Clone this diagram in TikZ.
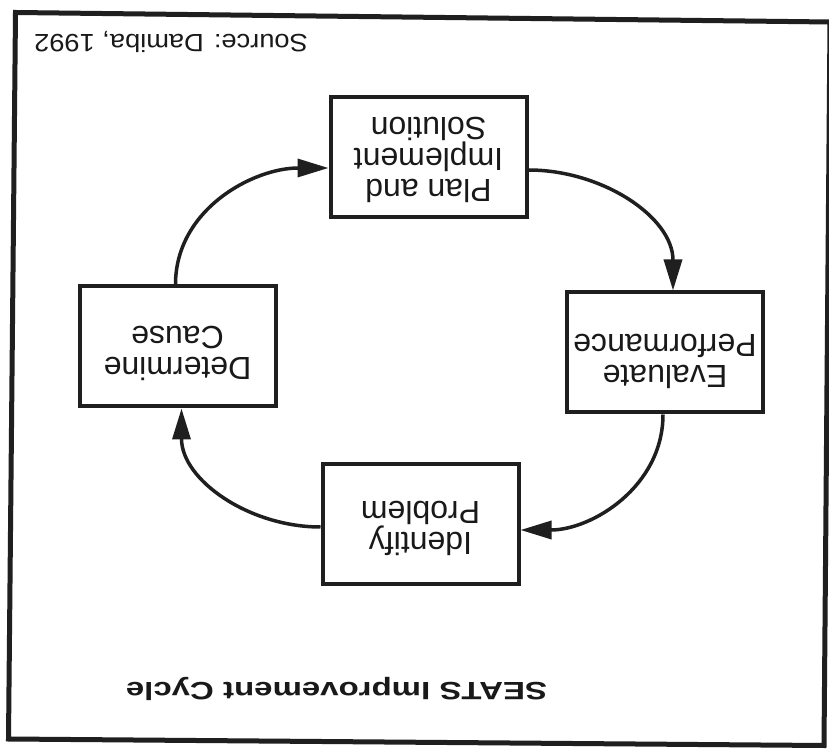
\documentclass[tikz,border=0pt]{standalone}
\usepackage{fontspec}
\setmainfont{Liberation Sans}
\usetikzlibrary{arrows.meta}
% a zero-width rule that deepens the last line, lifting the text block by half of #1
\newcommand\liftby[1]{\rule[-#1pt]{0pt}{0pt}}
\begin{document}
\begin{tikzpicture}[x=1pt,y=1pt,
  stage/.style={draw=black!88, line width=4pt, minimum width=196pt,
    minimum height=120pt, inner sep=0pt, align=center,
    font=\fontsize{32}{31}\selectfont, text=black!90},
  flow/.style={draw=black!88, line width=3.5pt,
    -{Triangle[length=31pt,width=18pt]}},
  caption/.style={anchor=base, text=black!90, inner sep=0pt},
]
\useasboundingbox (0,0) rectangle (829,750);
\fill[white] (0,0) rectangle (829,750);
% the whole sheet is printed upside down
\begin{scope}[rotate around={180:(414.5,375)}, transform shape]
  % outer frame (slightly skewed sheet)
  \draw[black!88, line width=5pt, line join=miter]
    (813.5,12.5) -- (-1,22) -- (5,745.5) -- (820.5,739) -- cycle;

  % title and source, set wide
  \node[caption, xscale=1.32, font=\fontsize{25}{30}\selectfont\bfseries] (title) at (492.5,682)
    {SEATS Improvement Cycle};
  \node[caption, xscale=1.09, font=\fontsize{25}{30}\selectfont] (source) at (658,35)
    {Source: Damiba, 1992};

  % the four stages
  \node[stage] (identify)  at (408.5,524) {Identify\\Problem\liftby{10}};
  \node[stage] (determine) at (651.5,346.5) {Determine\\Cause\liftby{15}};
  \node[stage] (plan)      at (400.5,157) {Plan and\\Implement\\Solution\liftby{6}};
  \node[stage] (evaluate)  at (164,352.5) {Evaluate\\Performance\liftby{18}};

  % clockwise cycle
  \draw[flow] ([yshift=3pt]identify.east) to[out=0,in=90] ([xshift=-4pt]determine.north);
  \draw[flow] ([xshift=2pt]determine.south) to[out=-90,in=0] ([yshift=11pt]plan.east);
  \draw[flow] ([yshift=13pt]plan.west) to[out=180,in=-90] ([xshift=-8pt]evaluate.south);
  \draw[flow] ([xshift=2pt]evaluate.north) to[out=90,in=180] ([yshift=6pt]identify.west);
\end{scope}
\end{tikzpicture}
\end{document}
